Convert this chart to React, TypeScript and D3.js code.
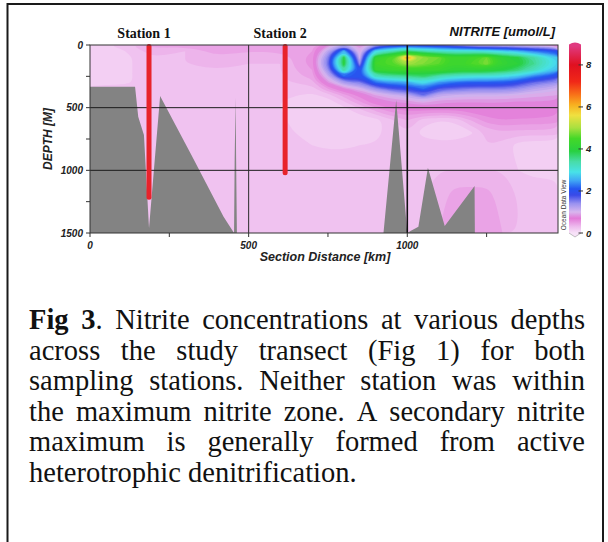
import { useMemo } from 'react';
import * as d3 from 'd3';

// section grid (km along transect, m depth)
const distKm = [0, 100, 200, 300, 400, 500, 600, 700, 750, 800, 850, 900, 950, 1000, 1050, 1100, 1150, 1200, 1250, 1300, 1350, 1400, 1475];
const depthM = [0, 50, 100, 150, 200, 250, 300, 350, 400, 450, 500, 600, 700, 800, 1000, 1200, 1500];

// nitrite (umol/L), one row per depth level, columns follow distKm
const no2At0 = [0.12, 0.25, 0.45, 0.45, 0.5, 0.4, 0.45, 0.45, 0.8, 1.3, 0.8, 1.4, 1.6, 1.8, 1.7, 1.6, 1.4, 1.1, 1.0, 1.0, 0.95, 0.9, 0.8];
const no2At50 = [0.12, 0.18, 0.35, 0.3, 0.45, 0.4, 0.42, 0.5, 1.2, 2.6, 0.95, 2.9, 3.3, 3.8, 3.4, 3.2, 3.1, 3.1, 3.0, 2.8, 2.6, 2.3, 2.0];
const no2At100 = [0.12, 0.15, 0.3, 0.3, 0.38, 0.35, 0.32, 0.55, 1.5, 3.9, 1.05, 4.2, 4.6, 6.2, 4.9, 4.7, 4.3, 4.4, 4.7, 4.1, 3.9, 3.4, 2.7];
const no2At150 = [0.12, 0.15, 0.3, 0.3, 0.32, 0.3, 0.3, 0.55, 1.6, 4.0, 1.4, 4.4, 4.6, 5.0, 4.8, 4.6, 4.3, 4.5, 4.8, 4.2, 4.0, 3.5, 2.8];
const no2At200 = [0.12, 0.15, 0.3, 0.3, 0.3, 0.3, 0.3, 0.5, 1.4, 3.4, 2.0, 4.2, 4.3, 4.4, 4.3, 4.3, 4.1, 4.1, 4.1, 3.9, 3.6, 3.2, 2.6];
const no2At250 = [0.12, 0.15, 0.3, 0.3, 0.25, 0.3, 0.28, 0.45, 1.1, 2.2, 2.0, 3.2, 3.4, 3.5, 3.7, 3.3, 3.1, 3.0, 3.0, 2.9, 2.7, 2.3, 1.9];
const no2At300 = [0.12, 0.15, 0.3, 0.3, 0.28, 0.3, 0.28, 0.35, 0.8, 1.3, 1.5, 2.2, 2.4, 2.5, 2.9, 2.4, 2.2, 2.1, 2.1, 2.1, 1.9, 1.6, 1.4];
const no2At350 = [0.3, 0.3, 0.3, 0.3, 0.3, 0.3, 0.25, 0.25, 0.5, 0.75, 1.0, 1.4, 1.7, 1.8, 2.2, 1.7, 1.6, 1.5, 1.5, 1.5, 1.4, 1.2, 1.05];
const no2At400 = [0.3, 0.3, 0.3, 0.3, 0.3, 0.3, 0.22, 0.18, 0.25, 0.45, 0.65, 0.9, 1.05, 1.2, 1.6, 1.15, 1.1, 1.05, 1.05, 1.05, 1.0, 0.95, 0.9];
const no2At450 = [0.3, 0.3, 0.3, 0.3, 0.3, 0.3, 0.2, 0.14, 0.15, 0.3, 0.5, 0.7, 0.8, 0.85, 1.0, 0.85, 0.82, 0.82, 0.82, 0.82, 0.8, 0.8, 0.78];
const no2At500 = [0.3, 0.3, 0.3, 0.3, 0.3, 0.3, 0.2, 0.12, 0.12, 0.18, 0.32, 0.5, 0.62, 0.68, 0.7, 0.7, 0.7, 0.72, 0.72, 0.72, 0.72, 0.72, 0.7];
const no2At600 = [0.3, 0.3, 0.3, 0.3, 0.3, 0.3, 0.22, 0.12, 0.1, 0.1, 0.12, 0.15, 0.28, 0.4, 0.25, 0.2, 0.22, 0.4, 0.55, 0.6, 0.58, 0.58, 0.55];
const no2At700 = [0.3, 0.3, 0.3, 0.3, 0.3, 0.3, 0.25, 0.13, 0.1, 0.1, 0.1, 0.12, 0.3, 0.3, 0.15, 0.12, 0.12, 0.18, 0.32, 0.38, 0.35, 0.35, 0.35];
const no2At800 = [0.3, 0.3, 0.3, 0.3, 0.3, 0.3, 0.28, 0.2, 0.18, 0.18, 0.2, 0.22, 0.3, 0.3, 0.28, 0.25, 0.25, 0.28, 0.3, 0.25, 0.15, 0.12, 0.12];
const no2At1000 = [0.3, 0.3, 0.3, 0.3, 0.3, 0.3, 0.3, 0.3, 0.3, 0.3, 0.3, 0.3, 0.3, 0.3, 0.3, 0.3, 0.3, 0.3, 0.3, 0.3, 0.2, 0.15, 0.15];
const no2At1200 = [0.3, 0.3, 0.3, 0.3, 0.3, 0.3, 0.3, 0.3, 0.3, 0.3, 0.3, 0.3, 0.3, 0.3, 0.3, 0.35, 0.45, 0.45, 0.45, 0.35, 0.3, 0.3, 0.3];
const no2At1500 = [0.3, 0.3, 0.3, 0.3, 0.3, 0.3, 0.3, 0.3, 0.3, 0.3, 0.3, 0.3, 0.3, 0.3, 0.3, 0.4, 0.5, 0.5, 0.5, 0.4, 0.3, 0.3, 0.3];
const nitriteRows = [no2At0, no2At50, no2At100, no2At150, no2At200, no2At250, no2At300, no2At350, no2At400, no2At450, no2At500, no2At600, no2At700, no2At800, no2At1000, no2At1200, no2At1500];

// bottom topography
const floorKm = [0, 142, 152, 170, 186, 221, 320, 421, 454, 456, 459, 460.5, 463, 925, 965, 1000, 1010, 1035, 1065, 1118, 1212, 1213, 1475];
const floorDepth = [333, 333, 572, 718, 1463, 407, 880, 1370, 1500, 900, 420, 900, 1500, 1500, 440, 1500, 1485, 1450, 979, 1445, 1125, 1500, 1500];

// sampling stations
const stationNames = ['Station 1', 'Station 2'];
const stationKm = [186, 615];
const stationDepth = [1215, 1020];

// ODV style palette
const paletteValues = [0, 0.3, 0.7, 1.0, 1.4, 1.8, 2.1, 2.5, 2.9, 3.4, 3.9, 4.5, 5.0, 5.6, 6.1, 6.6, 7.2, 8.0, 8.9];
const paletteColors = ['#f7e2f8', '#eebcee', '#e27ad8', '#d8b6ee', '#9a92f0', '#3a4ae8', '#2456f0', '#40a8f4', '#48e2e8', '#48dca8', '#28d040', '#44d828', '#a8e040', '#f0e040', '#f8b020', '#f87018', '#f02818', '#e01020', '#e03a80'];
const colorTicks = [0, 2, 4, 6, 8];

const depthTicks = [0, 500, 1000, 1500];
const depthMinor = [250, 750, 1250];
const distTicks = [0, 500, 1000];
const distMinor = [250, 750, 1250];

const captionLines = [
  'Fig 3. Nitrite concentrations at various depths',
  'across the study transect (Fig 1) for both',
  'sampling stations. Neither station was within',
  'the maximum nitrite zone. A secondary nitrite',
  'maximum is generally formed from active',
  'heterotrophic denitrification.',
];
const boldPrefix = 5; // "Fig 3"

const sans = 'Arial, "Liberation Sans", sans-serif';
const serif = '"Liberation Serif", "Times New Roman", serif';

const capSize = 28.5;
const capLeft = 29;
const capRight = 585;
const capY0 = 329;
const capStep = 30.6;

export default function App() {
  const x = d3.scaleLinear().domain([0, 1475]).range([90, 558]);
  const y = d3.scaleLinear().domain([0, 1500]).range([45, 233]);
  const color = d3.scaleLinear<string>().domain(paletteValues).range(paletteColors).clamp(true);
  const cb = d3.scaleLinear().domain([0, 8.9]).range([233, 46]);

  const layers = useMemo(() => {
    const nx = distKm.length;
    const ny = depthM.length;
    const colToKm = d3.scaleLinear().domain(distKm.map((_, i) => i)).range(distKm).clamp(true);
    const rowToM = d3.scaleLinear().domain(depthM.map((_, i) => i)).range(depthM).clamp(true);
    const gen = d3.contours().size([nx, ny]).thresholds(d3.range(0, 9, 0.1));
    const line = d3.line().curve(d3.curveBasisClosed);
    return gen(nitriteRows.flat()).map((c) => {
      const d = c.coordinates
        .map((poly) =>
          poly
            .map((ring) =>
              line(ring.slice(0, -1).map(([gx, gy]) => [x(colToKm(gx - 0.5)), y(rowToM(gy - 0.5))] as [number, number]))
            )
            .join('')
        )
        .join('');
      return { value: c.value, d };
    });
  }, []);

  const floorPath = d3
    .area<number>()
    .x((_, i) => x(floorKm[i]))
    .y0(y(1500))
    .y1((d) => y(d))(floorDepth);

  const caption = useMemo(() => {
    const ctx = document.createElement('canvas').getContext('2d')!;
    const measure = (s: string, bold: boolean) => {
      ctx.font = `${bold ? 'bold ' : ''}${capSize}px "Liberation Serif"`;
      return ctx.measureText(s).width;
    };
    return captionLines.map((ln, li) => {
      let offset = 0;
      const words = ln.split(' ').map((w) => {
        const start = offset;
        offset += w.length + 1;
        const segs: { t: string; b: boolean }[] = [];
        if (li === 0 && start < boldPrefix) {
          const cut = Math.min(w.length, boldPrefix - start);
          segs.push({ t: w.slice(0, cut), b: true });
          if (cut < w.length) segs.push({ t: w.slice(cut), b: false });
        } else segs.push({ t: w, b: false });
        const width = segs.reduce((s, g) => s + measure(g.t, g.b), 0);
        return { segs, width };
      });
      const total = d3.sum(words, (w) => w.width);
      const last = li === captionLines.length - 1;
      const gap = last ? measure(' ', false) : (capRight - capLeft - total) / (words.length - 1);
      let cx = capLeft;
      return words.map((w) => {
        const pos = cx;
        cx += w.width + gap;
        return { ...w, x: pos, y: capY0 + li * capStep };
      });
    });
  }, []);

  const tickText = { fontFamily: sans, fontSize: 10, fontWeight: 700, fontStyle: 'italic' as const, fill: '#222' };

  return (
    <svg width={608} height={542} style={{ position: 'absolute', left: 0, top: 0, background: '#fff' }}>
      <defs>
        <clipPath id="plotClip">
          <rect x={90} y={45} width={468} height={188} />
        </clipPath>
        <linearGradient id="cbGrad" x1="0" y1="1" x2="0" y2="0">
          {paletteValues.map((v, i) => (
            <stop key={i} offset={v / 8.9} stopColor={paletteColors[i]} />
          ))}
        </linearGradient>
      </defs>

      {/* frame */}
      <path d="M7.5,542 V4 H603 V542" fill="none" stroke="#1a1a1a" strokeWidth={2} />

      {/* headings */}
      {stationNames.map((s, i) => (
        <text key={s} x={x(stationKm[i]) - 5} y={38} textAnchor="middle" fontFamily={serif} fontWeight={700} fontSize={14} fill="#111">
          {s}
        </text>
      ))}
      <text x={555} y={35.5} textAnchor="end" fontFamily={sans} fontWeight={700} fontStyle="italic" fontSize={13} fill="#111">
        NITRITE [umol/L]
      </text>

      {/* field */}
      <g clipPath="url(#plotClip)">
        {layers.map((l) => (
          <path key={l.value} d={l.d} fill={color(l.value + 0.05)} fillRule="evenodd" />
        ))}
        <path d={floorPath ?? ''} fill="#838383" />
        {[500, 1000].map((d) => (
          <line key={d} x1={90} x2={558} y1={y(d)} y2={y(d)} stroke="#1c1c1c" strokeWidth={1} />
        ))}
        <line x1={x(500)} x2={x(500)} y1={45} y2={233} stroke="#2a2a2a" strokeWidth={1} />
        <line x1={x(1000)} x2={x(1000)} y1={45} y2={233} stroke="#111" strokeWidth={1.6} />
      </g>

      {/* stations */}
      {stationKm.map((k, i) => (
        <line key={k} x1={x(k)} x2={x(k)} y1={y(0) + 1.5} y2={y(stationDepth[i])} stroke="#e8232b" strokeWidth={5} strokeLinecap="round" />
      ))}

      {/* axes */}
      <rect x={90} y={45} width={468} height={188} fill="none" stroke="#333" strokeWidth={1} />
      {depthTicks.concat(depthMinor).map((d) => (
        <line key={'yt' + d} x1={86} x2={90} y1={y(d)} y2={y(d)} stroke="#333" />
      ))}
      {distTicks.concat(distMinor).map((k) => (
        <line key={'xt' + k} x1={x(k)} x2={x(k)} y1={233} y2={237} stroke="#333" />
      ))}
      {depthTicks.map((d) => (
        <text key={'yl' + d} x={83} y={y(d) + 3.6} textAnchor="end" {...tickText}>
          {d}
        </text>
      ))}
      {distTicks.map((k) => (
        <text key={'xl' + k} x={x(k)} y={249} textAnchor="middle" {...tickText}>
          {k}
        </text>
      ))}
      <text x={325} y={261} textAnchor="middle" fontFamily={sans} fontWeight={700} fontStyle="italic" fontSize={12.5} fill="#222">
        Section Distance [km]
      </text>
      <text transform="translate(51.5,139) rotate(-90)" textAnchor="middle" fontFamily={sans} fontWeight={700} fontStyle="italic" fontSize={12} fill="#222">
        DEPTH [M]
      </text>

      {/* colour bar */}
      <rect x={569} y={cb(8.9)} width={12} height={cb(0) - cb(8.9)} fill="url(#cbGrad)" />
      <path d={`M569,${cb(8.9)} L569,${cb(8.9) - 1.5} Q575,${cb(8.9) - 5.5} 581,${cb(8.9) - 1.5} L581,${cb(8.9)} Z`} fill={paletteColors[paletteColors.length - 1]} />
      <path d={`M569,${cb(0)} L575,${cb(0) + 4} L581,${cb(0)}`} fill={paletteColors[0]} stroke="#999" strokeWidth={0.6} />
      {colorTicks.map((v) => (
        <g key={'cb' + v}>
          <line x1={578.5} x2={583} y1={cb(v)} y2={cb(v)} stroke="#333" />
          <text x={586} y={cb(v) + 3.5} {...tickText} fontSize={9.5}>
            {v}
          </text>
        </g>
      ))}
      <text transform="translate(566,205) rotate(-90)" textAnchor="middle" fontFamily={sans} fontSize={6.5} fill="#333">
        Ocean Data View
      </text>

      {/* caption */}
      {caption.map((ln, li) =>
        ln.map((w, wi) => (
          <text key={li + '-' + wi} x={w.x} y={w.y} fontFamily={serif} fontSize={capSize} fill="#111">
            {w.segs.map((g, gi) => (
              <tspan key={gi} fontWeight={g.b ? 700 : 400}>
                {g.t}
              </tspan>
            ))}
          </text>
        ))
      )}
    </svg>
  );
}
